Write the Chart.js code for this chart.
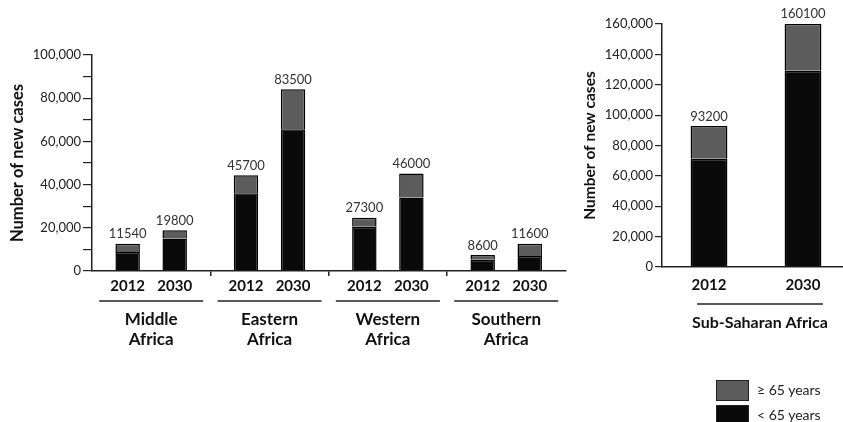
<!DOCTYPE html>
<html>
<head>
<meta charset="utf-8">
<script src="https://cdn.jsdelivr.net/npm/chart.js@4"></script>
<style>
  html, body { margin: 0; padding: 0; background: #fff; overflow: hidden; }
  body { width: 843px; height: 422px; position: relative; font-family: Lato, sans-serif; }
  #leftBox { position: absolute; left: 0; top: 0; width: 575px; height: 422px; }
  #rightBox { position: absolute; left: 575px; top: 0; width: 275px; height: 422px; }
  .legend { position: absolute; left: 716px; font-size: 14px; color: #222; }
  .legend span.box { position: absolute; left: 0; width: 31px; border: 1px solid #222; }
  .legend span.txt { position: absolute; left: 41px; white-space: nowrap; }
</style>
</head>
<body>
<div id="leftBox"><canvas id="leftChart"></canvas></div>
<div id="rightBox"><canvas id="rightChart"></canvas></div>
<div class="legend" style="top:380px;"><span class="box" style="height:19px;background:#5c5c5c;"></span><span class="txt" style="top:1px;">≥ 65 years</span></div>
<div class="legend" style="top:405px;"><span class="box" style="height:19px;background:#0a0a0a;"></span><span class="txt" style="top:1px;">&lt; 65 years</span></div>
<script>
// Datos
const regions = [['Middle', 'Africa'], ['Eastern', 'Africa'], ['Western', 'Africa'], ['Southern', 'Africa']];
const years = ['2012', '2030'];

const under65_2012 = [8800, 36000, 20500, 5200];
const over65_2012 = [3800, 8300, 4200, 2200];
const under65_2030 = [15000, 65600, 34000, 6900];
const over65_2030 = [3900, 18600, 11100, 5700];
const totals2012 = ['11540', '45700', '27300', '8600'];
const totals2030 = ['19800', '83500', '46000', '11600'];

// Sub-Saharan Africa
const ssaUnder65 = [71300, 129200];
const ssaOver65 = [21600, 31000];
const ssaTotals = ['93200', '160100'];

const leftTicks = [0, 20000, 40000, 60000, 80000, 100000];

const GRAY = '#5c5c5c';
const BLACK = '#0a0a0a';

Chart.defaults.font.family = 'Lato, sans-serif';
Chart.defaults.color = '#222';
Chart.defaults.animation = false;
Chart.defaults.devicePixelRatio = 1;

const fmt = v => Number(v).toLocaleString('en-US');

// Años, líneas y totales del gráfico izquierdo
const leftExtras = {
  id: 'leftExtras',
  afterDraw(chart) {
    const { ctx, chartArea, scales } = chart;
    ctx.save();
    ctx.fillStyle = '#111';
    ctx.textAlign = 'center';
    ctx.textBaseline = 'middle';
    ctx.font = 'bold 15px Lato';
    [0, 2].forEach((di, k) => {
      chart.getDatasetMeta(di).data.forEach(bar => {
        ctx.fillText(years[k], bar.x, chartArea.bottom + 15);
      });
    });
    ctx.strokeStyle = '#222';
    ctx.lineWidth = 1.5;
    regions.forEach((r, j) => {
      const cx = scales.x.getPixelForValue(j);
      ctx.beginPath();
      ctx.moveTo(cx - 52, chartArea.bottom + 30);
      ctx.lineTo(cx + 52, chartArea.bottom + 30);
      ctx.stroke();
    });
    ctx.font = '13px Lato';
    ctx.fillStyle = '#333';
    ctx.textBaseline = 'bottom';
    [[1, totals2012], [3, totals2030]].forEach(([di, labels]) => {
      chart.getDatasetMeta(di).data.forEach((bar, j) => {
        ctx.fillText(labels[j], bar.x, bar.y - 3);
      });
    });
    ctx.restore();
  }
};

new Chart(document.getElementById('leftChart'), {
  type: 'bar',
  data: {
    labels: regions,
    datasets: [
      { label: '< 65 years', data: under65_2012, stack: '2012', backgroundColor: BLACK },
      { label: '≥ 65 years', data: over65_2012, stack: '2012', backgroundColor: GRAY },
      { label: '< 65 years', data: under65_2030, stack: '2030', backgroundColor: BLACK },
      { label: '≥ 65 years', data: over65_2030, stack: '2030', backgroundColor: GRAY }
    ]
  },
  options: {
    responsive: true,
    maintainAspectRatio: false,
    layout: { padding: { top: 55, right: 8, bottom: 0, left: 0 } },
    datasets: { bar: { borderColor: '#000', borderWidth: 1.5, categoryPercentage: 0.795, barPercentage: 0.52, inflateAmount: 0 } },
    plugins: { legend: { display: false }, tooltip: { enabled: false } },
    scales: {
      x: {
        stacked: true,
        afterFit: s => { s.height = 151; },
        border: { display: true, color: '#222', width: 1.5 },
        grid: {
          display: true, drawOnChartArea: false, offset: true, tickLength: 5, lineWidth: 1.5,
          color: c => (c.index > 0 && c.index < 4) ? '#222' : 'rgba(0,0,0,0)'
        },
        ticks: { padding: 33, font: { size: 17, weight: 'bold' }, color: '#111' }
      },
      y: {
        stacked: true,
        min: 0,
        max: 100000,
        afterFit: s => { s.width = 92; },
        border: { display: true, color: '#222', width: 1.5 },
        grid: { display: true, drawOnChartArea: false, tickLength: 9, color: '#222', lineWidth: 1.2 },
        ticks: {
          stepSize: 10000,
          padding: 2,
          font: { size: 13 },
          callback: v => leftTicks.includes(v) ? fmt(v) : ''
        },
        title: { display: true, text: 'Number of new cases', font: { size: 16.5, weight: 'bold' }, color: '#111', padding: { top: 8, bottom: 0 } }
      }
    }
  },
  plugins: [leftExtras]
});

// Totales, línea y título del gráfico derecho
const rightExtras = {
  id: 'rightExtras',
  afterDraw(chart) {
    const { ctx, chartArea, scales } = chart;
    const mid = (scales.x.getPixelForValue(0) + scales.x.getPixelForValue(1)) / 2 + 4;
    ctx.save();
    ctx.textAlign = 'center';
    ctx.font = '13px Lato';
    ctx.fillStyle = '#333';
    ctx.textBaseline = 'bottom';
    chart.getDatasetMeta(1).data.forEach((bar, j) => {
      ctx.fillText(ssaTotals[j], bar.x, bar.y - 3);
    });
    ctx.strokeStyle = '#222';
    ctx.lineWidth = 1.5;
    ctx.beginPath();
    ctx.moveTo(mid - 63, chartArea.bottom + 37);
    ctx.lineTo(mid + 63, chartArea.bottom + 37);
    ctx.stroke();
    ctx.fillStyle = '#111';
    ctx.textBaseline = 'middle';
    ctx.font = 'bold 16px Lato';
    ctx.fillText('Sub-Saharan Africa', mid, chartArea.bottom + 56);
    ctx.restore();
  }
};

new Chart(document.getElementById('rightChart'), {
  type: 'bar',
  data: {
    labels: years,
    datasets: [
      { label: '< 65 years', data: ssaUnder65, backgroundColor: BLACK },
      { label: '≥ 65 years', data: ssaOver65, backgroundColor: GRAY }
    ]
  },
  options: {
    responsive: true,
    maintainAspectRatio: false,
    layout: { padding: { top: 24, right: 0, bottom: 0, left: 0 } },
    datasets: { bar: { borderColor: '#000', borderWidth: 1.5, categoryPercentage: 0.8, barPercentage: 0.49, inflateAmount: 0 } },
    plugins: { legend: { display: false }, tooltip: { enabled: false } },
    scales: {
      x: {
        stacked: true,
        afterFit: s => { s.height = 155; },
        border: { display: true, color: '#222', width: 1.5 },
        grid: { display: false, drawTicks: false },
        ticks: { padding: 9, font: { size: 15, weight: 'bold' }, color: '#111' }
      },
      y: {
        stacked: true,
        min: 0,
        max: 160000,
        afterFit: s => { s.width = 87; },
        border: { display: true, color: '#222', width: 1.5 },
        grid: { display: true, drawOnChartArea: false, tickLength: 7, color: '#222', lineWidth: 1.2 },
        ticks: { stepSize: 20000, padding: 2, font: { size: 13 }, callback: v => fmt(v) },
        title: { display: true, text: 'Number of new cases', font: { size: 15.5, weight: 'bold' }, color: '#111', padding: { top: 6, bottom: 0 } }
      }
    }
  },
  plugins: [rightExtras]
});
</script>
</body>
</html>
